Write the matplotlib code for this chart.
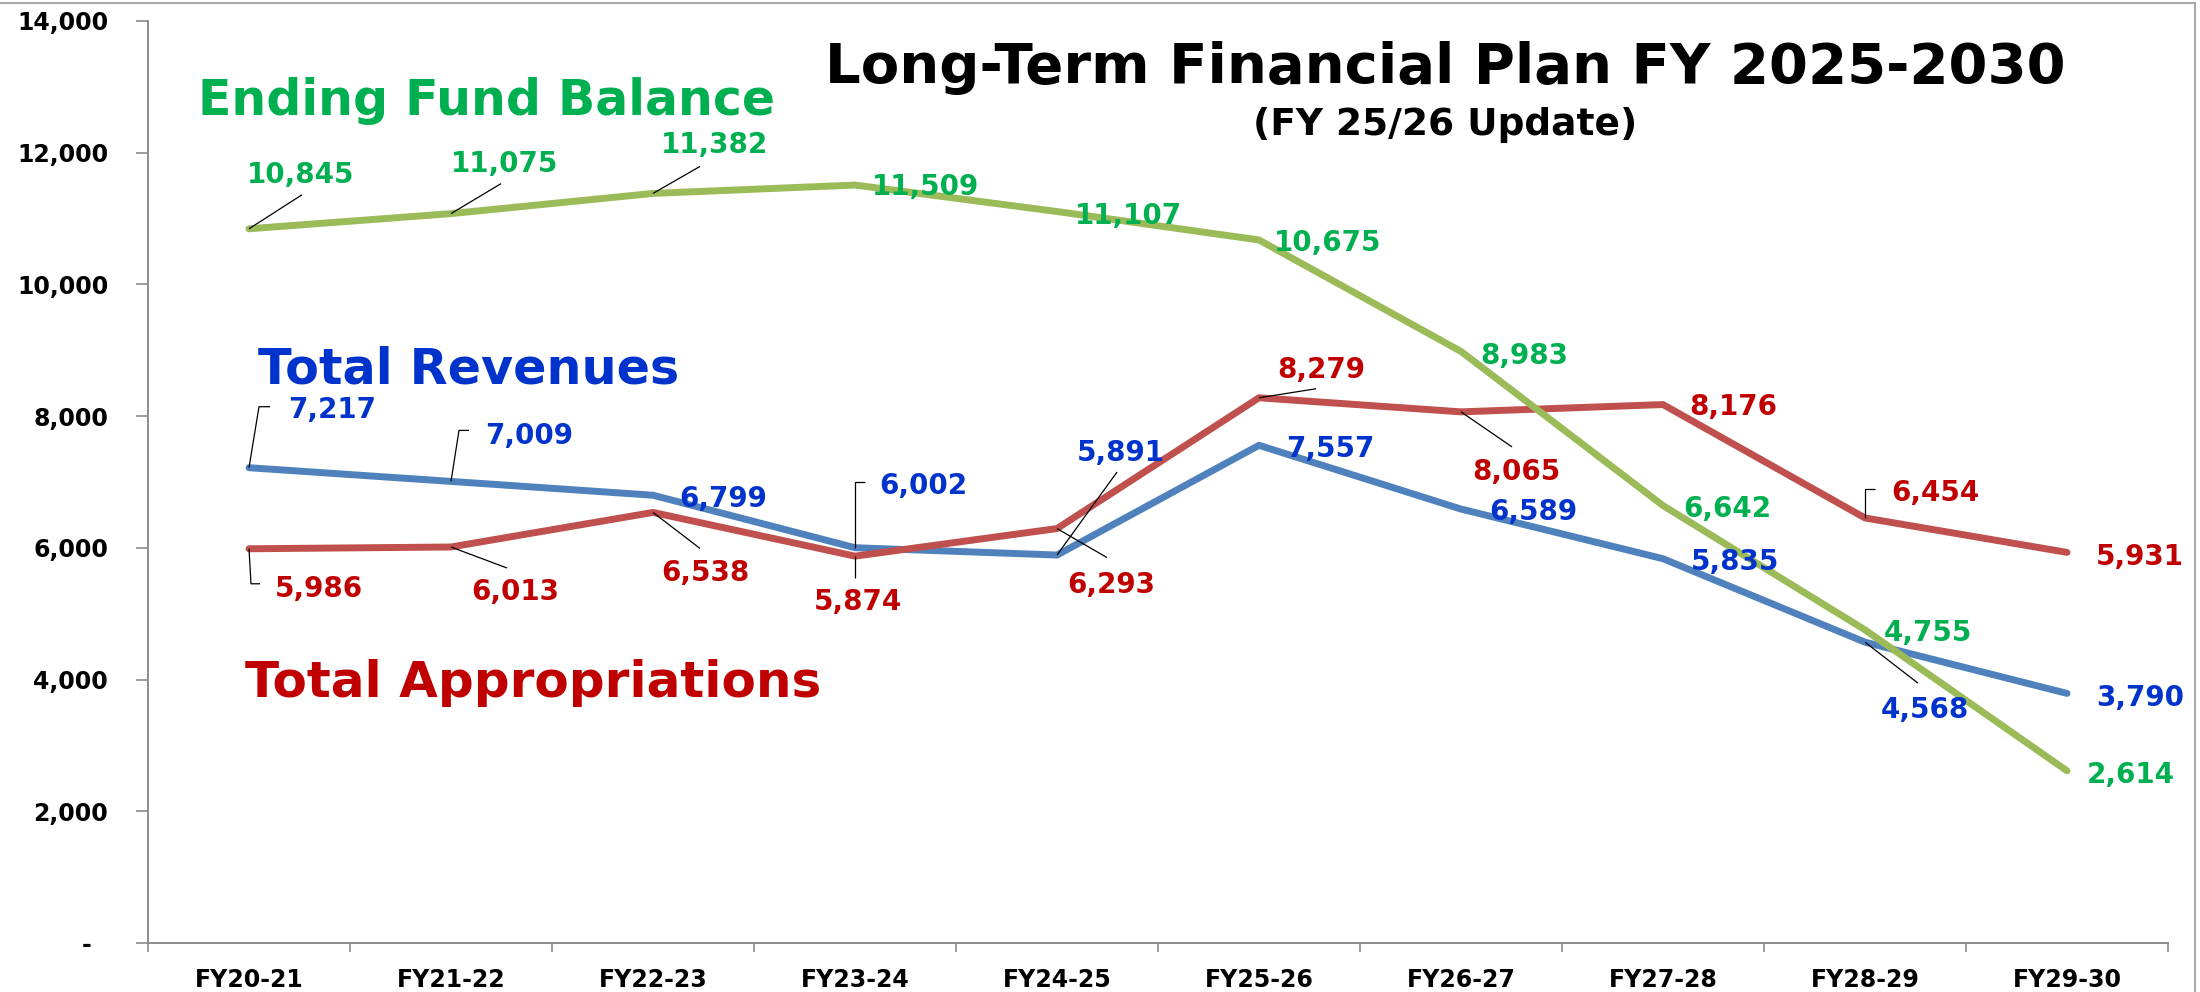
import matplotlib
matplotlib.use("Agg")
import matplotlib.pyplot as plt
from matplotlib.lines import Line2D
import numpy as np

# ---------------- data ----------------
categories = ["FY20-21", "FY21-22", "FY22-23", "FY23-24", "FY24-25",
              "FY25-26", "FY26-27", "FY27-28", "FY28-29", "FY29-30"]
fund_balance = [10845, 11075, 11382, 11509, 11107, 10675, 8983, 6642, 4755, 2614]
revenues = [7217, 7009, 6799, 6002, 5891, 7557, 6589, 5835, 4568, 3790]
appropriations = [5986, 6013, 6538, 5874, 6293, 8279, 8065, 8176, 6454, 5931]
y_ticks = [0, 2000, 4000, 6000, 8000, 10000, 12000, 14000]
y_tick_labels = ["-  ", "2,000", "4,000", "6,000", "8,000", "10,000", "12,000", "14,000"]
title = "Long-Term Financial Plan FY 2025-2030"
subtitle = "(FY 25/26 Update)"
name_fund = "Ending Fund Balance"
name_rev = "Total Revenues"
name_app = "Total Appropriations"

# ---------------- style ----------------
W, H, DPI = 2200, 992, 100
FONT = "DejaVu Sans"
col_green_line, col_blue_line, col_red_line = "#9BBB59", "#4F81BD", "#C0504D"
col_green_txt, col_blue_txt, col_red_txt = "#00B050", "#0033CC", "#C00000"
axis_gray = "#8C8C8C"

# label placement: (dx, dy) pixel offset of label left / vertical centre from point
# (dy positive = downward), and leader polyline offsets (pixels, downward positive)
green_layout = [((-2, -56), [(0, 0), (53, -34)]),
                ((0, -52), [(0, 0), (50, -30)]),
                ((8, -51), [(0, 0), (47, -27)]),
                ((17, 0), None), ((18, 2), None), ((15, 1), None),
                ((19, 2), None), ((20, 1), None), ((19, 1), None), ((20, 2), None)]
blue_layout = [((39, -60), [(0, 0), (10, -61), (21, -61)]),
               ((34, -48), [(0, 0), (8, -51), (18, -51)]),
               ((26, 2), None),
               ((24, -64), [(0, 0), (0, -66), (10, -66)]),
               ((20, -104), [(0, 0), (60, -83)]),
               ((27, 2), None), ((28, 1), None), ((28, 1), None),
               ((16, 66), [(0, 0), (53, 41)]),
               ((29, 2), None)]
red_layout = [((26, 38), [(0, 0), (2, 35), (11, 35)]),
              ((20, 43), [(0, 0), (56, 21)]),
              ((8, 58), [(0, 0), (47, 36)]),
              ((-41, 44), [(0, 0), (0, 22)]),
              ((10, 54), [(0, 0), (50, 29)]),
              ((18, -30), [(0, 0), (57, -9)]),
              ((11, 58), [(0, 0), (51, 35)]),
              ((26, 0), None),
              ((26, -27), [(0, 0), (0, -29), (10, -29)]),
              ((29, 2), None)]

fig = plt.figure(figsize=(W / DPI, H / DPI), dpi=DPI)
fig.patch.set_facecolor("white")
ax = fig.add_axes([148 / W, 49 / H, 2020 / W, 922 / H])

x = np.arange(len(categories))
ax.set_xlim(-0.5, len(categories) - 0.5)
ax.set_ylim(0, 14000)

lw = 5.0
ax.plot(x, revenues, color=col_blue_line, lw=lw, solid_capstyle="round",
        solid_joinstyle="round", zorder=3)
ax.plot(x, appropriations, color=col_red_line, lw=lw, solid_capstyle="round",
        solid_joinstyle="round", zorder=4)
ax.plot(x, fund_balance, color=col_green_line, lw=lw, solid_capstyle="round",
        solid_joinstyle="round", zorder=5)

# axes styling
for s in ["top", "right"]:
    ax.spines[s].set_visible(False)
for s in ["left", "bottom"]:
    ax.spines[s].set_color(axis_gray)
    ax.spines[s].set_linewidth(1.4)

tick_fs = 17
ax.set_yticks(y_ticks)
ax.set_yticklabels(y_tick_labels, fontfamily=FONT, fontweight="bold", fontsize=tick_fs)
ax.tick_params(axis="y", length=12 * 0.72, width=1.2, color=axis_gray, pad=20, direction="out")

ax.set_xticks(np.arange(-0.5, len(categories), 1.0))
ax.set_xticklabels([])
ax.tick_params(axis="x", which="major", length=9 * 0.72, width=1.2, color=axis_gray, direction="out")
ax.set_xticks(x, minor=True)
ax.set_xticklabels(categories, minor=True, fontfamily=FONT, fontweight="bold", fontsize=tick_fs)
ax.tick_params(axis="x", which="minor", length=0, pad=18)

fig.canvas.draw()

lab_fs = 20
em_px = lab_fs * DPI / 72
cap_half = 0.729 * em_px / 2


def draw_labels(values, layout, color):
    for i, (v, ((dx, dy), leader)) in enumerate(zip(values, layout)):
        ax.annotate(f"{v:,}", xy=(x[i], v), xytext=(dx, -(dy + cap_half)),
                    textcoords="offset pixels", ha="left", va="baseline",
                    fontfamily=FONT, fontweight="bold", fontsize=lab_fs,
                    color=color, zorder=6)
        if leader:
            p = ax.transData.transform((x[i], v))
            pts = np.array([[p[0] + ox, p[1] - oy] for ox, oy in leader])
            d = ax.transData.inverted().transform(pts)
            ax.plot(d[:, 0], d[:, 1], color="black", lw=0.9, zorder=6,
                    solid_capstyle="butt")


draw_labels(fund_balance, green_layout, col_green_txt)
draw_labels(revenues, blue_layout, col_blue_txt)
draw_labels(appropriations, red_layout, col_red_txt)

# titles and series names
fig.text(1445 / W, 1 - 83 / H, title, ha="center", va="baseline",
         fontfamily=FONT, fontweight="bold", fontsize=40.4, color="black")
fig.text(1445 / W, 1 - 135 / H, subtitle, ha="center", va="baseline",
         fontfamily=FONT, fontweight="bold", fontsize=27, color="black")
fig.text(198 / W, 1 - 115 / H, name_fund, ha="left", va="baseline",
         fontfamily=FONT, fontweight="bold", fontsize=35.2, color=col_green_txt)
fig.text(258 / W, 1 - 383 / H, name_rev, ha="left", va="baseline",
         fontfamily=FONT, fontweight="bold", fontsize=35.5, color=col_blue_txt)
fig.text(245 / W, 1 - 697 / H, name_app, ha="left", va="baseline",
         fontfamily=FONT, fontweight="bold", fontsize=36, color=col_red_txt)

# sheet border lines (top and right)
fig.add_artist(Line2D([0, 2195 / W], [1 - 3 / H, 1 - 3 / H], color="#A6A6A6",
                      lw=1.4, transform=fig.transFigure))
fig.add_artist(Line2D([2195 / W, 2195 / W], [0, 1 - 3 / H], color="#A6A6A6",
                      lw=1.4, transform=fig.transFigure))

fig.savefig("out.png", dpi=DPI, facecolor="white")
